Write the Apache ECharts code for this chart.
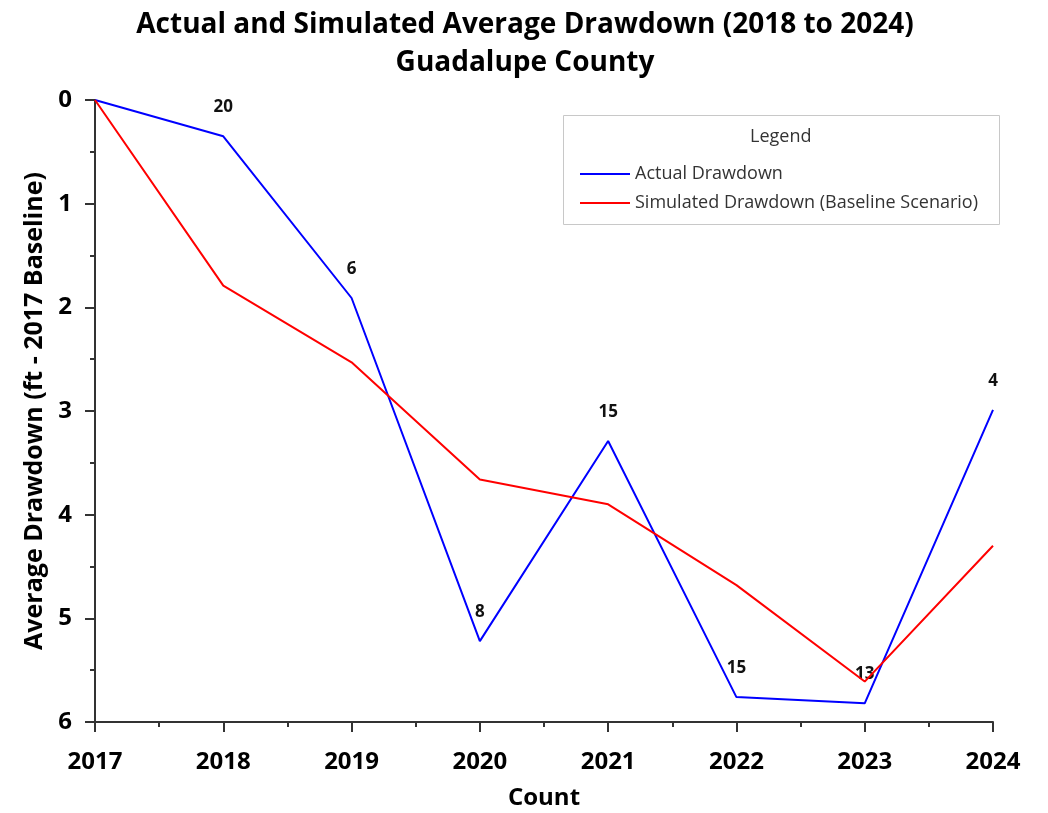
<!DOCTYPE html>
<html>
<head>
<meta charset="utf-8">
<script src="https://cdn.jsdelivr.net/npm/echarts@6/dist/echarts.min.js"></script>
<style>
html,body{margin:0;padding:0;background:#fff;}
#chart{width:1048px;height:813px;}
</style>
</head>
<body>
<div id="chart"></div>
<script>
var years = [2017, 2018, 2019, 2020, 2021, 2022, 2023, 2024];
var actualDrawdown = [0, 0.35, 1.91, 5.22, 3.29, 5.76, 5.82, 2.99];
var simulatedDrawdown = [0, 1.79, 2.53, 3.66, 3.90, 4.68, 5.61, 4.30];
var counts = [null, 20, 6, 8, 15, 15, 13, 4];

var FONT = '"Open Sans", "Noto Sans", sans-serif';

function pairs(vals) {
  return years.map(function (y, i) { return [y, vals[i]]; });
}

var chart = echarts.init(document.getElementById('chart'), null, {renderer: 'canvas'});
chart.setOption({
  animation: false,
  backgroundColor: '#fff',
  textStyle: {fontFamily: FONT},
  title: {
    text: 'Actual and Simulated Average Drawdown (2018 to 2024)\nGuadalupe County',
    left: 520,
    textAlign: 'center',
    top: 1,
    textStyle: {fontFamily: FONT, fontSize: 28, fontWeight: 'bold', color: '#000', lineHeight: 38}
  },
  grid: {left: 95, right: 55, top: 100, bottom: 91, containLabel: false, outerBoundsMode: 'none'},
  legend: {
    orient: 'vertical',
    left: 575,
    top: 160,
    itemWidth: 50,
    itemHeight: 2,
    itemGap: 11,
    itemTextGap: 11,
    icon: 'rect',
    textStyle: {fontFamily: FONT, fontSize: 18, color: '#333'},
    data: [
      {name: 'Actual Drawdown', itemStyle: {color: '#0000ff', opacity: 1}},
      {name: 'Simulated Drawdown (Baseline Scenario)', itemStyle: {color: '#ff0000', opacity: 1}}
    ]
  },
  graphic: [
    {type: 'rect', left: 563, top: 115, z: 0,
     shape: {width: 436, height: 109},
     style: {fill: '#fff', stroke: '#c8c8c8', lineWidth: 1}},
    {type: 'text', left: 750, top: 128, z: 5,
     style: {text: 'Legend', fontFamily: FONT, fontSize: 18, fill: '#333'}}
  ],
  xAxis: {
    type: 'value',
    position: 'bottom',
    min: 2017, max: 2024, interval: 1,
    name: 'Count',
    nameLocation: 'middle',
    nameGap: 64,
    nameTextStyle: {fontFamily: FONT, fontSize: 24, fontWeight: 'bold', color: '#000'},
    axisLine: {show: true, onZero: false, lineStyle: {color: '#333', width: 2}},
    axisTick: {show: true, length: 10, lineStyle: {color: '#333', width: 2}},
    minorTick: {show: true, splitNumber: 2, length: 5, lineStyle: {color: '#333', width: 2}},
    splitLine: {show: false},
    axisLabel: {
      margin: 28,
      fontFamily: FONT, fontSize: 24, fontWeight: 'bold', color: '#000',
      formatter: function (v) { return String(v); }
    }
  },
  yAxis: {
    type: 'value',
    inverse: true,
    min: 0, max: 6, interval: 1,
    name: 'Average Drawdown (ft - 2017 Baseline)',
    nameLocation: 'middle',
    nameGap: 45,
    nameTextStyle: {fontFamily: FONT, fontSize: 25, fontWeight: 'bold', color: '#000'},
    axisLine: {show: true, onZero: false, lineStyle: {color: '#333', width: 2}},
    axisTick: {show: true, length: 10, lineStyle: {color: '#333', width: 2}},
    minorTick: {show: true, splitNumber: 2, length: 5, lineStyle: {color: '#333', width: 2}},
    splitLine: {show: false},
    axisLabel: {
      margin: 23,
      fontFamily: FONT, fontSize: 24, fontWeight: 'bold', color: '#000'
    }
  },
  series: [
    {
      name: 'Actual Drawdown',
      type: 'line',
      data: pairs(actualDrawdown),
      color: '#0000ff',
      lineStyle: {color: '#0000ff', width: 2},
      showSymbol: true,
      symbol: 'circle',
      symbolSize: 1,
      itemStyle: {color: 'rgba(0,0,0,0)'},
      z: 3,
      label: {
        show: true,
        position: 'top',
        distance: 20,
        fontFamily: FONT, fontSize: 17, fontWeight: 'bold', color: '#111',
        formatter: function (p) { var c = counts[p.dataIndex]; return c == null ? '' : String(c); }
      }
    },
    {
      name: 'Simulated Drawdown (Baseline Scenario)',
      type: 'line',
      data: pairs(simulatedDrawdown),
      color: '#ff0000',
      lineStyle: {color: '#ff0000', width: 2},
      showSymbol: false,
      symbol: 'none',
      z: 4
    }
  ]
});
</script>
</body>
</html>
